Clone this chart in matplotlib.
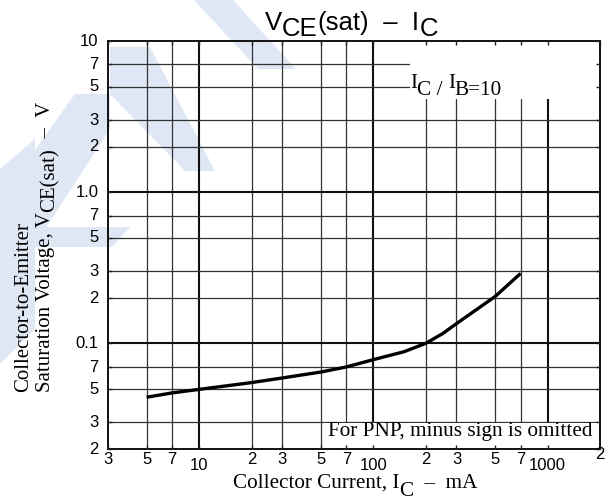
import matplotlib.pyplot as plt
from matplotlib.patches import Polygon, Rectangle
from matplotlib.ticker import NullLocator

# data
ic_ma = [5, 7, 10, 20, 30, 50, 70, 100, 150, 200, 250, 300, 500, 700]
vce_sat = [0.044, 0.047, 0.0496, 0.055, 0.059, 0.0646, 0.0698, 0.078, 0.088, 0.1,
           0.116, 0.135, 0.204, 0.29]

x_ticks = [3, 5, 7, 10, 20, 30, 50, 70, 100, 200, 300, 500, 700, 1000, 2000]
x_labels = ["3", "5", "7", "10", "2", "3", "5", "7", "100", "2", "3", "5", "7", "1000", "2"]
y_ticks = [0.02, 0.03, 0.05, 0.07, 0.1, 0.2, 0.3, 0.5, 0.7, 1, 2, 3, 5, 7, 10]
y_labels = ["2", "3", "5", "7", "0.1", "2", "3", "5", "7", "1.0", "2", "3", "5", "7", "10"]
decades = [10, 100, 1000, 0.1, 1]

W, H = 611, 502
SANS = "Liberation Sans"
SERIF = "Liberation Serif"

fig = plt.figure(figsize=(W / 100, H / 100), dpi=100)


def fx(px):
    return px / W


def fy(py):
    return 1 - py / H


# faint watermark behind everything (pixel outlines)
wm = [
    [(193, 0), (232, 0), (296, 70), (258, 70)],
    [(110, 48), (150, 48), (215, 172), (185, 172), (110, 95)],
    [(0, 250), (0, 200), (75, 95), (110, 95), (110, 130), (45, 230)],
    [(0, 228), (130, 228), (112, 248), (0, 248)],
    [(0, 170), (35, 140), (35, 330), (0, 365)],
]
for pts in wm:
    fig.patches.append(Polygon([(fx(x), fy(y)) for x, y in pts], closed=True,
                               transform=fig.transFigure, facecolor="#dfe7f5",
                               edgecolor="none", zorder=-5))

ax = fig.add_axes([fx(108), fy(450), (600 - 108) / W, (450 - 42) / H])
ax.set_facecolor("none")
ax.set_xscale("log")
ax.set_yscale("log")
ax.set_xlim(3, 2000)
ax.set_ylim(0.02, 10)
ax.set_xticks(x_ticks)
ax.set_yticks(y_ticks)
ax.xaxis.set_minor_locator(NullLocator())
ax.yaxis.set_minor_locator(NullLocator())
ax.tick_params(which="both", direction="in", length=3, width=1, top=True, right=True,
               labelbottom=False, labelleft=False, color="#222222")
ax.set_axisbelow(False)
for s in ax.spines.values():
    s.set_linewidth(1.4)
    s.set_color("#111111")

# grid drawn by hand so the white label boxes can sit on top of it
for v in x_ticks[1:-1]:
    ax.axvline(v, color="#111111" if v in decades else "#333333",
               lw=1.5 if v in decades else 0.9, zorder=1)
for v in y_ticks[1:-1]:
    ax.axhline(v, color="#111111" if v in decades else "#333333",
               lw=1.5 if v in decades else 0.9, zorder=1)

ax.plot(ic_ma, vce_sat, color="black", lw=2.4, solid_capstyle="butt",
        solid_joinstyle="round", zorder=3)

# white boxes behind the annotations
ax.add_patch(Rectangle((0.614, 0.858), 0.384, 0.14, transform=ax.transAxes,
                       facecolor="white", edgecolor="none", zorder=2))
ax.add_patch(Rectangle((0.439, 0.002), 0.559, 0.061, transform=ax.transAxes,
                       facecolor="white", edgecolor="none", zorder=2))

# tick labels
for v, lab in zip(x_ticks, x_labels):
    dy = 11 if lab in ("10", "100", "1000") else 7
    if v == x_ticks[-1]:
        dy = 3.5
    ax.annotate(lab, xy=(v, 0), xycoords=("data", "axes fraction"), xytext=(0, -dy),
                textcoords="offset points", ha="center", va="center",
                fontsize=12, family=SANS)
for v, lab in zip(y_ticks, y_labels):
    ax.annotate(lab, xy=(0, v), xycoords=("axes fraction", "data"), xytext=(-7, 0.5),
                textcoords="offset points", ha="right", va="center",
                fontsize=12, family=SANS)


def chain(parts, x0, y0, size, family, rot=0, **kw):
    # parts: list of (text, shift_pts); shift > 0 drops below the baseline
    if rot == 0:
        t = fig.text(fx(x0), fy(y0), parts[0][0], ha="left", va="baseline",
                     fontsize=size, family=family, **kw)
    else:
        t = fig.text(fx(x0), fy(y0), parts[0][0], ha="center", va="bottom",
                     rotation=90, fontsize=size, family=family, **kw)
    prev_shift = parts[0][1]
    for s, shift in parts[1:]:
        d = shift - prev_shift
        if rot == 0:
            t = ax.annotate(s, xy=(1, 0), xycoords=t, xytext=(0, -d),
                            textcoords="offset points", ha="left", va="bottom",
                            fontsize=size, family=family, annotation_clip=False, **kw)
        else:
            t = ax.annotate(s, xy=(1, 1), xycoords=t, xytext=(d, 0),
                            textcoords="offset points", ha="right", va="bottom",
                            rotation=90, fontsize=size, family=family,
                            annotation_clip=False, **kw)
        prev_shift = shift
    return t


# title
chain([("V", 0), ("CE", 4), ("(sat)", 0), ("  \u2013  I", 0), ("C", 4)],
      265, 30, 18.5, SANS)

# annotations
chain([("I", 0), ("C / ", 5), ("I", 0), ("B=10", 5)], 410, 88, 15.3, SERIF, zorder=4)
ax.text(0.447, 0.034, "For PNP, minus sign is omitted", transform=ax.transAxes,
        fontsize=15.3, family=SERIF, ha="left", va="baseline", zorder=4)

# axis labels
chain([("Collector Current, I", 0), ("C", 6), ("  \u2013  mA", 0)], 233, 488, 15.2, SERIF)
fig.text(fx(24), fy(307), "Collector-to-Emitter", rotation=90, ha="center", va="center",
         fontsize=15, family=SERIF)
chain([("Saturation Voltage, V", 0), ("CE(sat)", 3), ("  \u2013  V", 0)], 46, 392, 15,
      SERIF, rot=90)

fig.savefig("out.png", dpi=100)
